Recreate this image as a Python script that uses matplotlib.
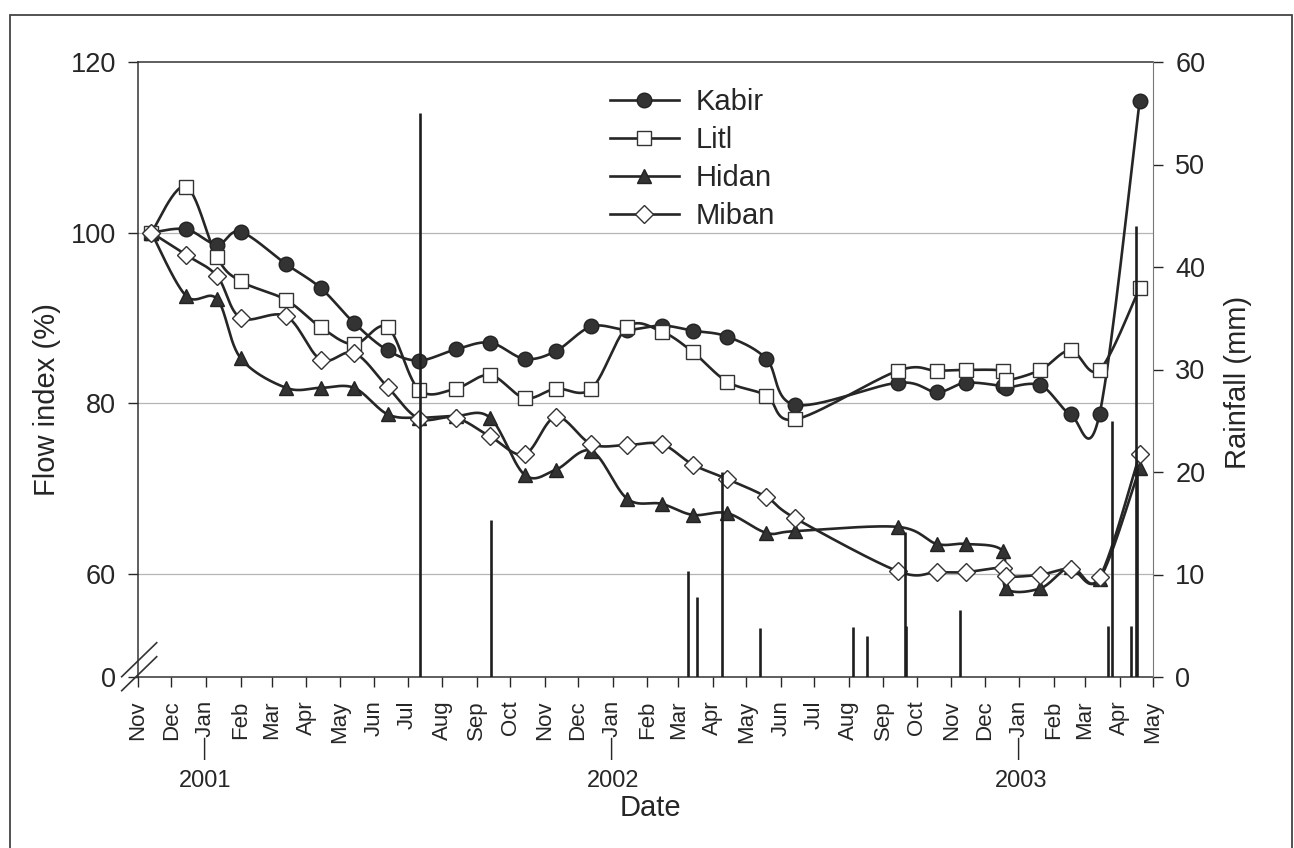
import matplotlib
matplotlib.use('Agg')
import matplotlib.pyplot as plt
import matplotlib.dates as mdates
import numpy as np
from datetime import datetime
from matplotlib.lines import Line2D
from matplotlib.patches import Rectangle

plt.rcParams['font.family'] = ['Liberation Sans', 'DejaVu Sans']

# ---------------- data ----------------
sample_dates = ['2000-11-13', '2000-12-14', '2001-01-11', '2001-02-01', '2001-03-14',
                '2001-04-14', '2001-05-14', '2001-06-13', '2001-07-11', '2001-08-13',
                '2001-09-13', '2001-10-14', '2001-11-11', '2001-12-13', '2002-01-14',
                '2002-02-14', '2002-03-14', '2002-04-14', '2002-05-19', '2002-06-14',
                '2002-09-14', '2002-10-19', '2002-11-14', '2002-12-17', '2002-12-20',
                '2003-01-20', '2003-02-16', '2003-03-14', '2003-04-19']

kabir = [100, 100.4, 98.6, 100.1, 96.3, 93.5, 89.4, 86.2, 85.0, 86.3,
         87.1, 85.2, 86.1, 89.0, 88.6, 89.1, 88.5, 87.8, 85.2, 79.8,
         82.4, 81.3, 82.4, 82.0, 81.8, 82.1, 78.7, 78.7, 115.4]

litl = [100, 105.4, 97.1, 94.3, 92.1, 88.9, 86.9, 88.9, 81.6, 81.7,
        83.3, 80.6, 81.7, 81.7, 88.9, 88.4, 86.0, 82.5, 80.9, 78.1,
        83.8, 83.8, 83.9, 83.8, 82.7, 83.9, 86.2, 83.9, 93.5]

hidan = [100, 92.6, 92.2, 85.3, 81.8, 81.8, 81.8, 78.7, 78.3, 78.5,
         78.3, 71.6, 72.2, 74.4, 68.8, 68.2, 66.9, 67.1, 64.8, 65.0,
         65.5, 63.5, 63.5, 62.7, 58.3, 58.3, 60.8, 59.4, 72.4]

miban = [100, 97.4, 94.9, 90.0, 90.2, 85.1, 85.9, 81.9, 78.2, 78.3,
         76.1, 74.0, 78.4, 75.2, 75.1, 75.2, 72.8, 71.1, 69.0, 66.5,
         60.3, 60.2, 60.2, 60.7, 59.7, 59.9, 60.6, 59.6, 74.0]

rain_dates = ['2001-07-12', '2001-09-14', '2002-03-10', '2002-03-18', '2002-04-09',
              '2002-05-13', '2002-08-05', '2002-08-17', '2002-09-20', '2002-09-21',
              '2002-11-09', '2003-03-22', '2003-03-25', '2003-04-11', '2003-04-16',
              '2003-04-17']
rain_mm = [55.0, 15.3, 10.3, 7.8, 20.0, 4.8, 4.9, 4.0, 14.1, 5.0,
           6.5, 5.0, 25.0, 5.0, 44.0, 20.5]

month_labels = ['Nov', 'Dec', '\u2014Jan', 'Feb', 'Mar', 'Apr', 'May', 'Jun', 'Jul', 'Aug',
                'Sep', 'Oct', 'Nov', 'Dec', '\u2014Jan', 'Feb', 'Mar', 'Apr', 'May', 'Jun',
                'Jul', 'Aug', 'Sep', 'Oct', 'Nov', 'Dec', '\u2014Jan', 'Feb', 'Mar', 'Apr', 'May']
year_labels = ['2001', '2002', '2003']

left_ticks = [47.9, 60, 80, 100, 120]
left_tick_labels = ['0', '60', '80', '100', '120']
grid_levels = [60, 80, 100]
rain_ticks = [0, 10, 20, 30, 40, 50, 60]

series_names = ['Kabir', 'Litl', 'Hidan', 'Miban']

# ---------------- helpers ----------------
def todate(s):
    return datetime.strptime(s, '%Y-%m-%d')


def smooth(xd, yd, sx, sy, n=30):
    P = np.column_stack([np.asarray(xd) * sx, np.asarray(yd) * sy])
    m = len(P)
    out = [P[0]]
    t = np.linspace(0, 1, n)[1:, None]
    for i in range(m - 1):
        p0 = P[i - 1] if i > 0 else P[i]
        p1 = P[i]
        p2 = P[i + 1]
        p3 = P[i + 2] if i + 2 < m else P[i + 1]
        c1 = p1 + (p2 - p0) / 6.0
        c2 = p2 - (p3 - p1) / 6.0
        seg = (1 - t) ** 3 * p1 + 3 * (1 - t) ** 2 * t * c1 + 3 * (1 - t) * t ** 2 * c2 + t ** 3 * p2
        out.extend(seg)
    out = np.array(out)
    return out[:, 0] / sx, out[:, 1] / sy


# ---------------- figure ----------------
W, H = 1294, 848
fig = plt.figure(figsize=(W / 100, H / 100), dpi=100)
ax_left, ax_right, ax_top, ax_bot = 138, 1153, 62, 677
ax = fig.add_axes([ax_left / W, 1 - ax_bot / H, (ax_right - ax_left) / W, (ax_bot - ax_top) / H])

ink = '#262626'
xdates = [todate(d) for d in sample_dates]
xnum = mdates.date2num(xdates)

styles = {
    'Kabir': dict(marker='o', ms=10.5, mfc='#333333', mec='#222222', mew=1.0),
    'Litl': dict(marker='s', ms=9.5, mfc='white', mec='#333333', mew=1.0),
    'Hidan': dict(marker='^', ms=10.5, mfc='#333333', mec='#222222', mew=1.0),
    'Miban': dict(marker='D', ms=9.0, mfc='white', mec='#333333', mew=1.0),
}
data = {'Kabir': kabir, 'Litl': litl, 'Hidan': hidan, 'Miban': miban}

for lvl in grid_levels:
    ax.axhline(lvl, color='#b5b5b5', lw=0.9, zorder=1)

for name in series_names:
    sxs, sys_ = smooth(xnum, data[name], 1.115, 8.53)
    ax.plot(sxs, sys_, color=ink, lw=1.9, zorder=2, solid_capstyle='round')
for name in series_names:
    ax.plot(xnum, data[name], linestyle='none', zorder=3, **styles[name])

ax.set_ylim(47.9, 120)
ax.set_yticks(left_ticks)
ax.set_yticklabels(left_tick_labels)

month_starts = []
y, m = 2000, 11
for _ in range(len(month_labels)):
    month_starts.append(datetime(y, m, 1))
    m += 1
    if m > 12:
        m = 1
        y += 1
ax.set_xlim(mdates.date2num(month_starts[0]), mdates.date2num(month_starts[-1]))
ax.set_xticks(mdates.date2num(month_starts))
ax.set_xticklabels(month_labels, rotation=90, va='top', ha='center')

ax.tick_params(axis='x', direction='out', length=7, width=1, pad=10, labelsize=16,
               colors=ink)
ax.tick_params(axis='y', direction='out', length=7, width=1, pad=9, labelsize=19.5,
               colors=ink)

for sp in ['left', 'bottom', 'top']:
    ax.spines[sp].set_color('#333333')
    ax.spines[sp].set_linewidth(1.1)
ax.spines['right'].set_visible(False)

# rainfall axis
ax2 = ax.twinx()
ax2.set_ylim(0, 60)
ax2.set_yticks(rain_ticks)
rnum = mdates.date2num([todate(d) for d in rain_dates])
ax2.vlines(rnum, 0, rain_mm, color='#1e1e1e', lw=1.9, zorder=2)
ax2.tick_params(axis='y', direction='out', length=7, width=1, pad=9, labelsize=19.5,
                colors=ink)
ax2.spines['right'].set_color('#777777')
for sp in ['left', 'bottom', 'top']:
    ax2.spines[sp].set_visible(False)

# axis break marks on left axis
for yy in (676.7, 690.7):
    fig.add_artist(Line2D([121.7 / W, 156.7 / W], [1 - yy / H, 1 - (yy - 34) / H],
                          color='#333333', lw=1.2))

# labels
fig.text(47 / W, 1 - 400 / H, 'Flow index (%)', rotation=90, ha='center', va='center',
         fontsize=21, color=ink)
fig.text(1238 / W, 1 - 382 / H, 'Rainfall (mm)', rotation=90, ha='center', va='center',
         fontsize=21, color=ink)
fig.text(650 / W, 1 - 808 / H, 'Date', ha='center', va='center', fontsize=21, color=ink)
for lbl, xpx in zip(year_labels, (205, 613, 1021)):
    fig.text(xpx / W, 1 - 781 / H, lbl, ha='center', va='center', fontsize=17, color=ink)

# legend
handles = [Line2D([0], [0], color=ink, lw=1.9, **styles[n]) for n in series_names]
fig.legend(handles, series_names, loc='upper left', bbox_to_anchor=(610 / W, 1 - 88 / H),
           frameon=False, fontsize=21, handlelength=2.35, handletextpad=0.6,
           labelspacing=0.34, borderpad=0, borderaxespad=0, labelcolor=ink)

# outer frame of the figure panel
fig.add_artist(Rectangle((10 / W, -0.02), (1292 - 10) / W, 1 - 15 / H + 0.02,
                         transform=fig.transFigure, fill=False, edgecolor='#444444', lw=1.3))

fig.savefig('out.png', dpi=100)
